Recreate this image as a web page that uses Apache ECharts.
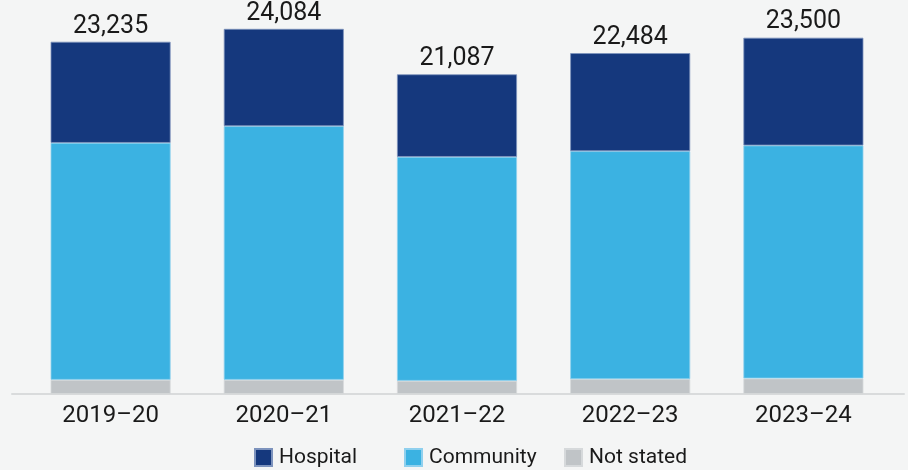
<!DOCTYPE html>
<html><head><meta charset="utf-8">
<script src="https://cdn.jsdelivr.net/npm/echarts@6/dist/echarts.min.js"></script>
<style>html,body{margin:0;padding:0;background:#f4f5f5;}#c{width:908px;height:470px;}</style>
</head><body><div id="c"></div>
<script>
const categories = ['2019–20','2020–21','2021–22','2022–23','2023–24'];
const notStated = [938, 938, 872, 978, 1024];
const community = [15628, 16730, 14769, 15040, 15370];
const hospital = [6669, 6416, 5446, 6466, 7106];
const totals = [23235, 24084, 21087, 22484, 23500];
const legendNames = ['Hospital','Community','Not stated'];

const font = 'Roboto, "Liberation Sans", sans-serif';
const legendLeft = [254, 404, 564];
const chart = echarts.init(document.getElementById('c'), null, {renderer:'canvas'});
chart.setOption({
  backgroundColor: '#f4f5f5',
  animation: false,
  textStyle: {fontFamily: font},
  grid: [
    {left: 24, right: 18, top: 15, bottom: 76},
    {left: 12, right: 4, top: 15, bottom: 76}
  ],
  legend: legendNames.map((n, i) => ({
    top: 447, left: legendLeft[i], padding: 0,
    itemWidth: 17, itemHeight: 17, icon: 'rect',
    textStyle: {fontSize: 21, color: '#1a1a1a', fontFamily: font, padding: [0, 0, 0, 2]},
    data: [n]
  })),
  xAxis: [
    {type: 'category', gridIndex: 0, data: categories,
     axisLine: {show: false}, axisTick: {show: false},
     axisLabel: {fontSize: 24, color: '#1a1a1a', margin: 10, fontFamily: font}},
    {type: 'value', gridIndex: 1, min: 0, max: 1, show: true,
     axisLine: {show: true, onZero: false, lineStyle: {color: '#d9dbdc', width: 2}},
     axisTick: {show: false}, axisLabel: {show: false}, splitLine: {show: false}}
  ],
  yAxis: [
    {type: 'value', gridIndex: 0, min: 0, max: 25000, show: false, splitLine: {show: false}},
    {type: 'value', gridIndex: 1, min: 0, max: 1, show: false}
  ],
  series: [
    {name: 'Not stated', type: 'bar', stack: 't', data: notStated, barWidth: 120,
     itemStyle: {color: '#c0c4c7', borderColor: '#d6d9db', borderWidth: 0.8}},
    {name: 'Community', type: 'bar', stack: 't', data: community, barWidth: 120,
     itemStyle: {color: '#3bb2e2', borderColor: '#8fd0ee', borderWidth: 0.8}},
    {name: 'Hospital', type: 'bar', stack: 't', data: hospital, barWidth: 120,
     itemStyle: {color: '#15387d', borderColor: '#7d93bd', borderWidth: 0.8},
     label: {show: true, position: 'top', distance: 3, fontSize: 25, color: '#1a1a1a', fontFamily: font,
       formatter: p => totals[p.dataIndex].toLocaleString('en-US')}}
  ]
});
</script></body></html>
